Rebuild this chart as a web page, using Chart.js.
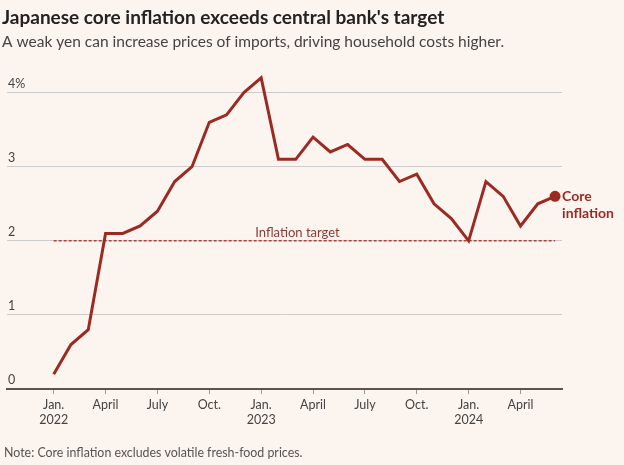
<!DOCTYPE html>
<html lang="en">

<head>
    <meta charset="UTF-8">
    <title>Japanese core inflation exceeds central bank's target</title>
    <script src="https://cdn.jsdelivr.net/npm/chart.js"></script>
    <style>
        html, body { margin: 0; padding: 0; background: #fcf4ef; }
    </style>
</head>

<body>
    <canvas id="cpiChart" width="624" height="465"></canvas>

    <script>
        // Japan core CPI (excl. fresh food), % change y/y, Jan 2022 - Jun 2024
        const months = [
            'Jan 2022', 'Feb 2022', 'Mar 2022', 'Apr 2022', 'May 2022', 'Jun 2022',
            'Jul 2022', 'Aug 2022', 'Sep 2022', 'Oct 2022', 'Nov 2022', 'Dec 2022',
            'Jan 2023', 'Feb 2023', 'Mar 2023', 'Apr 2023', 'May 2023', 'Jun 2023',
            'Jul 2023', 'Aug 2023', 'Sep 2023', 'Oct 2023', 'Nov 2023', 'Dec 2023',
            'Jan 2024', 'Feb 2024', 'Mar 2024', 'Apr 2024', 'May 2024', 'Jun 2024'
        ];
        const coreInflation = [
            0.2, 0.6, 0.8, 2.1, 2.1, 2.2, 2.4, 2.8, 3.0, 3.6, 3.7, 4.0,
            4.2, 3.1, 3.1, 3.4, 3.2, 3.3, 3.1, 3.1, 2.8, 2.9, 2.5, 2.3,
            2.0, 2.8, 2.6, 2.2, 2.5, 2.6
        ];
        const inflationTarget = 2;

        const xTickMonths = [0, 3, 6, 9, 12, 15, 18, 21, 24, 27];
        const xTickLabels = [['Jan.', '2022'], 'April', 'July', 'Oct.', ['Jan.', '2023'],
            'April', 'July', 'Oct.', ['Jan.', '2024'], 'April'];
        const yTickValues = [0, 1, 2, 3, 4];
        const yTickLabels = ['0', '1', '2', '3', '4%'];

        const FONT = 'Lato, "DejaVu Sans", sans-serif';
        const RED = '#9b2a22';

        const last = coreInflation.length - 1;

        // text next to the lines (series label + target label)
        const lineLabels = {
            id: 'lineLabels',
            afterDatasetsDraw(chart) {
                const { ctx, scales: { x, y } } = chart;
                ctx.save();
                ctx.fillStyle = '#8c3a36';
                ctx.font = '13px ' + FONT;
                ctx.textAlign = 'center';
                ctx.textBaseline = 'bottom';
                ctx.fillText('Inflation target', x.getPixelForValue(14.1), y.getPixelForValue(inflationTarget) - 2);

                const px = x.getPixelForValue(last) + 7;
                const py = y.getPixelForValue(coreInflation[last]);
                ctx.fillStyle = RED;
                ctx.font = 'bold 14px ' + FONT;
                ctx.textAlign = 'left';
                ctx.textBaseline = 'middle';
                ctx.fillText('Core', px, py);
                ctx.fillText('inflation', px, py + 17);
                ctx.restore();
            },
            afterDraw(chart) {
                const ctx = chart.ctx;
                ctx.save();
                ctx.fillStyle = '#555';
                ctx.font = '12.4px ' + FONT;
                ctx.textBaseline = 'middle';
                ctx.fillText('Note: Core inflation excludes volatile fresh-food prices.', 4, 453);
                ctx.restore();
            }
        };

        new Chart(document.getElementById('cpiChart'), {
            type: 'line',
            data: {
                datasets: [
                    {
                        label: 'Core inflation',
                        data: coreInflation.map((v, i) => ({ x: i, y: v })),
                        borderColor: RED,
                        backgroundColor: RED,
                        borderWidth: 3,
                        tension: 0,
                        pointRadius: ctx => ctx.dataIndex === last ? 4 : 0,
                        pointHoverRadius: 0
                    },
                    {
                        label: 'Inflation target',
                        data: [{ x: 0, y: inflationTarget }, { x: last, y: inflationTarget }],
                        borderColor: '#a3473f',
                        borderWidth: 1.5,
                        borderDash: [3, 2],
                        pointRadius: 0
                    }
                ]
            },
            options: {
                responsive: false,
                animation: false,
                layout: { padding: { left: 2, right: 62, top: 0, bottom: 35 } },
                plugins: {
                    legend: { display: false },
                    tooltip: { enabled: false },
                    title: {
                        display: true,
                        text: "Japanese core inflation exceeds central bank's target",
                        align: 'start',
                        color: '#222',
                        font: { family: FONT, size: 19, weight: 'bold' },
                        padding: { top: 6, bottom: 2 }
                    },
                    subtitle: {
                        display: true,
                        text: 'A weak yen can increase prices of imports, driving household costs higher.',
                        align: 'start',
                        color: '#444',
                        font: { family: FONT, size: 15.5 },
                        padding: { top: 2, bottom: 19 }
                    }
                },
                scales: {
                    x: {
                        type: 'linear',
                        min: -2.7,
                        max: 29.4,
                        afterBuildTicks: s => { s.ticks = xTickMonths.map(v => ({ value: v })); },
                        ticks: {
                            color: '#444',
                            font: { family: FONT, size: 12.5 },
                            padding: 3,
                            maxRotation: 0,
                            autoSkip: false,
                            callback: (v, i) => xTickLabels[i]
                        },
                        grid: { drawOnChartArea: false, drawTicks: true, tickLength: 5, color: '#999' },
                        border: { display: true, color: '#555', width: 2 }
                    },
                    y: {
                        min: 0,
                        max: 4.3,
                        afterBuildTicks: s => { s.ticks = yTickValues.map(v => ({ value: v })); },
                        ticks: {
                            mirror: true,
                            padding: 1,
                            labelOffset: -9,
                            color: '#444',
                            font: { family: FONT, size: 12.5 },
                            callback: (v, i) => yTickLabels[i]
                        },
                        grid: { drawTicks: false, color: '#cccccc', lineWidth: 1 },
                        border: { display: false }
                    }
                }
            },
            plugins: [lineLabels]
        });
    </script>
</body>

</html>
